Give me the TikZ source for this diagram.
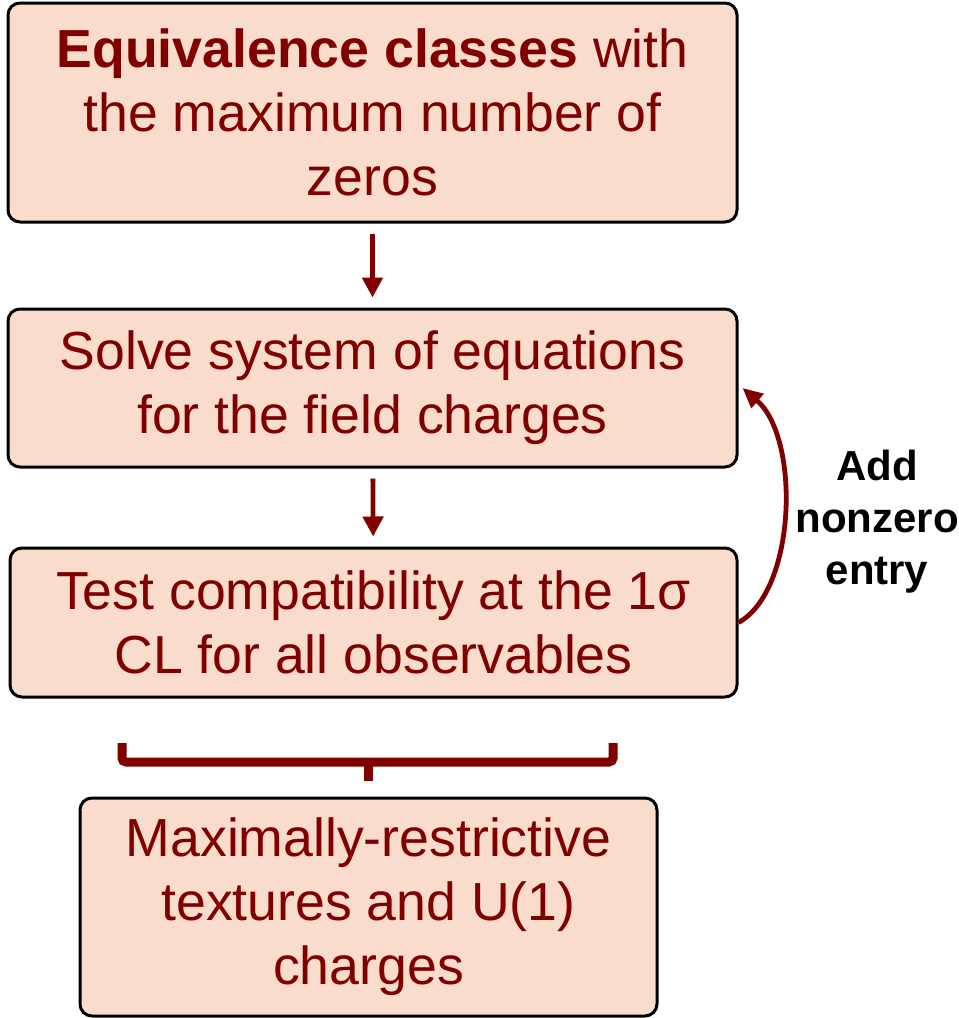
\documentclass[tikz,border=0pt]{standalone}
\usepackage{fontspec}
\setmainfont{Liberation Sans}
\usetikzlibrary{arrows.meta}
\definecolor{boxfill}{HTML}{F9DCCB}
\definecolor{maroon}{HTML}{800000}
\tikzset{
  stage/.style={draw=black, line width=1.5pt, rounded corners=6pt, fill=boxfill,
    text=maroon, align=center, inner sep=0pt,
    font=\fontsize{26.8}{32}\selectfont},
  flow/.style={draw=maroon, line width=2.4pt,
    -{Triangle[length=10pt,width=10pt]}, shorten <=5pt, shorten >=5pt},
  loop/.style={draw=maroon, line width=2.4pt, -{Triangle[length=10pt,width=9pt]}},
  bracket/.style={draw=maroon, line width=4.5pt, rounded corners=2pt}
}
\begin{document}
\begin{tikzpicture}[x=0.5pt, y=-0.5pt]
  \useasboundingbox (0,0) rectangle (959,1018);

  \node[stage, minimum width=364.5pt, minimum height=109.5pt] (b1) at (372.5,112.5)
    {\textbf{Equivalence classes} with\\ the maximum number of\\ zeros};
  \node[stage, minimum width=364.5pt, minimum height=79pt] (b2) at (372.5,388)
    {Solve system of equations\\ for the field charges};
  \node[stage, minimum width=363.5pt, minimum height=74.5pt] (b3) at (373.5,622.5)
    {Test compatibility at the 1σ\\ CL for all observables};
  \node[stage, minimum width=288.5pt, minimum height=109pt] (b4) at (368.5,907)
    {Maximally-restrictive\\ textures and U(1)\\ charges};

  \draw[flow] (b1) -- (b2);
  \draw[flow] (b2) -- (b3);

  % feedback loop back to the solving step
  \draw[loop] (b3.east) .. controls +(58,-32) and +(58,50) .. ([xshift=2pt]b2.east);
  \node[align=center, font=\fontsize{21}{26}\selectfont\bfseries] (lbl) at (877,522)
    {Add\\ nonzero\\ entry};

  % bracket gathering the surviving cases
  \coordinate (bl) at (122,743);
  \coordinate (br) at (613,743);
  \coordinate (bm) at (368,762);
  \coordinate (bs) at (368,781);
  \draw[bracket] (bl) -- (bl |- bm) -- (br |- bm) -- (br);
  \draw[draw=maroon, line width=4.5pt] (bm) -- (bs);
\end{tikzpicture}
\end{document}
